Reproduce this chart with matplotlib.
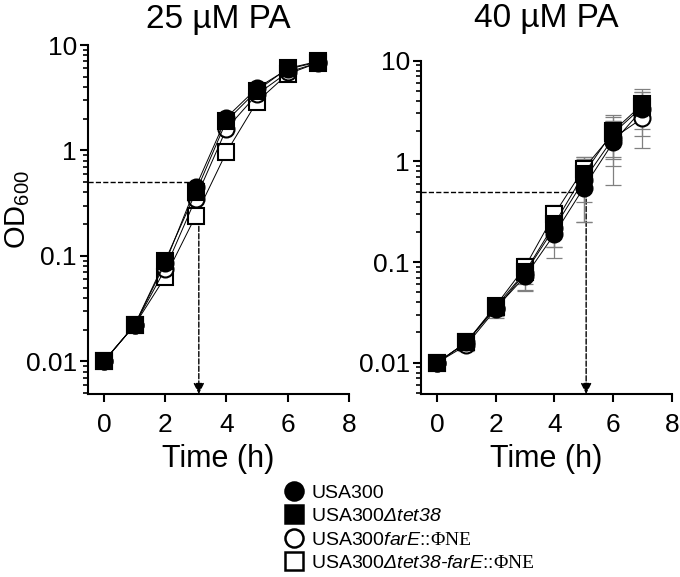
import numpy as np
import matplotlib
matplotlib.use("Agg")
import matplotlib.pyplot as plt
from matplotlib.lines import Line2D
from matplotlib.ticker import LogLocator, FixedLocator, NullFormatter

# mathtext fonts: italic sans for gene names (digits too), serif for the phage name
plt.rcParams.update({
    "font.family": ["Liberation Sans", "DejaVu Sans"],
    "mathtext.fontset": "custom",
    "mathtext.rm": "Liberation Sans:italic",
    "mathtext.it": "Liberation Sans:italic",
    "mathtext.sf": "Liberation Serif",
    "mathtext.bf": "Liberation Sans",
    "axes.linewidth": 1.5,
})

# ── data ───────────────────────────────────────────────────────────────────
TIME = [0, 1, 2, 3, 4, 5, 6, 7]

# 25 uM PA
usa300_25 = [0.010, 0.022, 0.085, 0.45, 2.05, 3.9, 5.9, 6.9]
tet38_25  = [0.010, 0.022, 0.090, 0.40, 1.90, 3.7, 6.0, 7.0]
farE_25   = [0.010, 0.022, 0.075, 0.35, 1.60, 3.4, 5.5, 6.8]
dbl_25    = [0.010, 0.022, 0.063, 0.24, 0.96, 2.9, 5.3, 6.8]

# 40 uM PA (mean, SD)
usa300_40 = [0.010, 0.016, 0.035, 0.072, 0.19, 0.55, 1.55, 3.3]
tet38_40  = [0.010, 0.016, 0.036, 0.080, 0.24, 0.75, 2.00, 3.7]
farE_40   = [0.010, 0.015, 0.034, 0.078, 0.22, 0.65, 1.70, 2.7]
dbl_40    = [0.010, 0.016, 0.037, 0.090, 0.30, 0.85, 1.90, 3.5]
usa300_40_sd = [0, 0.002, 0.006, 0.020, 0.08, 0.30, 0.97, 1.95]
tet38_40_sd  = [0, 0.002, 0.005, 0.020, 0.10, 0.35, 0.90, 1.20]
farE_40_sd   = [0, 0.002, 0.006, 0.025, 0.08, 0.40, 0.80, 0.90]
dbl_40_sd    = [0, 0.002, 0.005, 0.020, 0.07, 0.25, 0.85, 1.40]

LABELS = [
    "USA300",
    r"USA300$\mathit{Δtet38}$",
    r"USA300$\mathit{farE}$::$\mathsf{ΦNE}$",
    r"USA300$\mathit{Δtet38\text{-}farE}$::$\mathsf{ΦNE}$",
]
STYLES = [  # marker, facecolor
    ("o", "black"),
    ("s", "black"),
    ("o", "white"),
    ("s", "white"),
]

fig = plt.figure(figsize=(6.8, 5.77), dpi=100)
ax1 = fig.add_axes([0.1294, 0.3172, 0.3836, 0.6048])
ax2 = fig.add_axes([0.619, 0.3172, 0.369, 0.5774])


def style_ax(ax, xmin):
    ax.set_yscale("log")
    ax.set_ylim(0.0049, 10)
    ax.set_xlim(xmin, 8)
    for s in ("top", "right"):
        ax.spines[s].set_visible(False)
    ax.xaxis.set_major_locator(FixedLocator([0, 2, 4, 6, 8]))
    ax.yaxis.set_major_locator(FixedLocator([0.01, 0.1, 1, 10]))
    ax.set_yticklabels(["0.01", "0.1", "1", "10"])
    ax.yaxis.set_minor_locator(LogLocator(base=10, subs=np.arange(2, 10)))
    ax.yaxis.set_minor_formatter(NullFormatter())
    ax.tick_params(which="major", length=6, width=1.5, labelsize=19)
    ax.tick_params(axis="x", pad=8)
    ax.tick_params(axis="y", pad=2)
    ax.tick_params(which="minor", length=3.5, width=1.2)
    ax.set_xlabel("Time (h)", fontsize=22, labelpad=5)


def draw_series(ax, series, errs=None):
    for i in [3, 2, 1, 0]:
        mk, fc = STYLES[i]
        if errs is not None:
            ax.errorbar(TIME, series[i], yerr=errs[i], fmt="none", ecolor="#808080",
                        elinewidth=0.9, capsize=6, capthick=0.9, zorder=2)
        ax.plot(TIME, series[i], color="black", lw=0.7, marker=mk, ms=11.5,
                markerfacecolor=fc, markeredgecolor="black", markeredgewidth=1.5,
                zorder=3 + (3 - i))


def guide(ax, xmin, xcut):
    ax.plot([xmin, xcut], [0.5, 0.5], ls="--", color="black", lw=1, zorder=1)
    ax.annotate("", xy=(xcut, 0.0049), xytext=(xcut, 0.5),
                arrowprops=dict(arrowstyle="-|>", ls="--", lw=1, color="black",
                                mutation_scale=16, shrinkA=0, shrinkB=0),
                zorder=1)


style_ax(ax1, -0.52)
guide(ax1, -0.52, 3.1)
draw_series(ax1, [usa300_25, tet38_25, farE_25, dbl_25])
ax1.set_ylabel(r"OD$_{\mathbf{600}}$", fontsize=21)
ax1.yaxis.set_label_coords(-0.215, 0.53)
ax1.set_title("25 µM PA", fontsize=24, pad=12)

style_ax(ax2, -0.55)
guide(ax2, -0.55, 5.08)
draw_series(ax2, [usa300_40, tet38_40, farE_40, dbl_40],
            [usa300_40_sd, tet38_40_sd, farE_40_sd, dbl_40_sd])
ax2.set_title("40 µM PA", fontsize=24, pad=24)

handles = [Line2D([0], [0], ls="none", marker=mk, ms=13, markerfacecolor=fc,
                  markeredgecolor="black", markeredgewidth=1.8, label=lbl)
           for (mk, fc), lbl in zip(STYLES, LABELS)]
fig.legend(handles=handles, loc="upper left", bbox_to_anchor=(0.405, 0.178),
           frameon=False, fontsize=14, handlelength=0.9, handletextpad=0.45,
           labelspacing=0.3, borderpad=0)

fig.savefig("out.png", dpi=100)
